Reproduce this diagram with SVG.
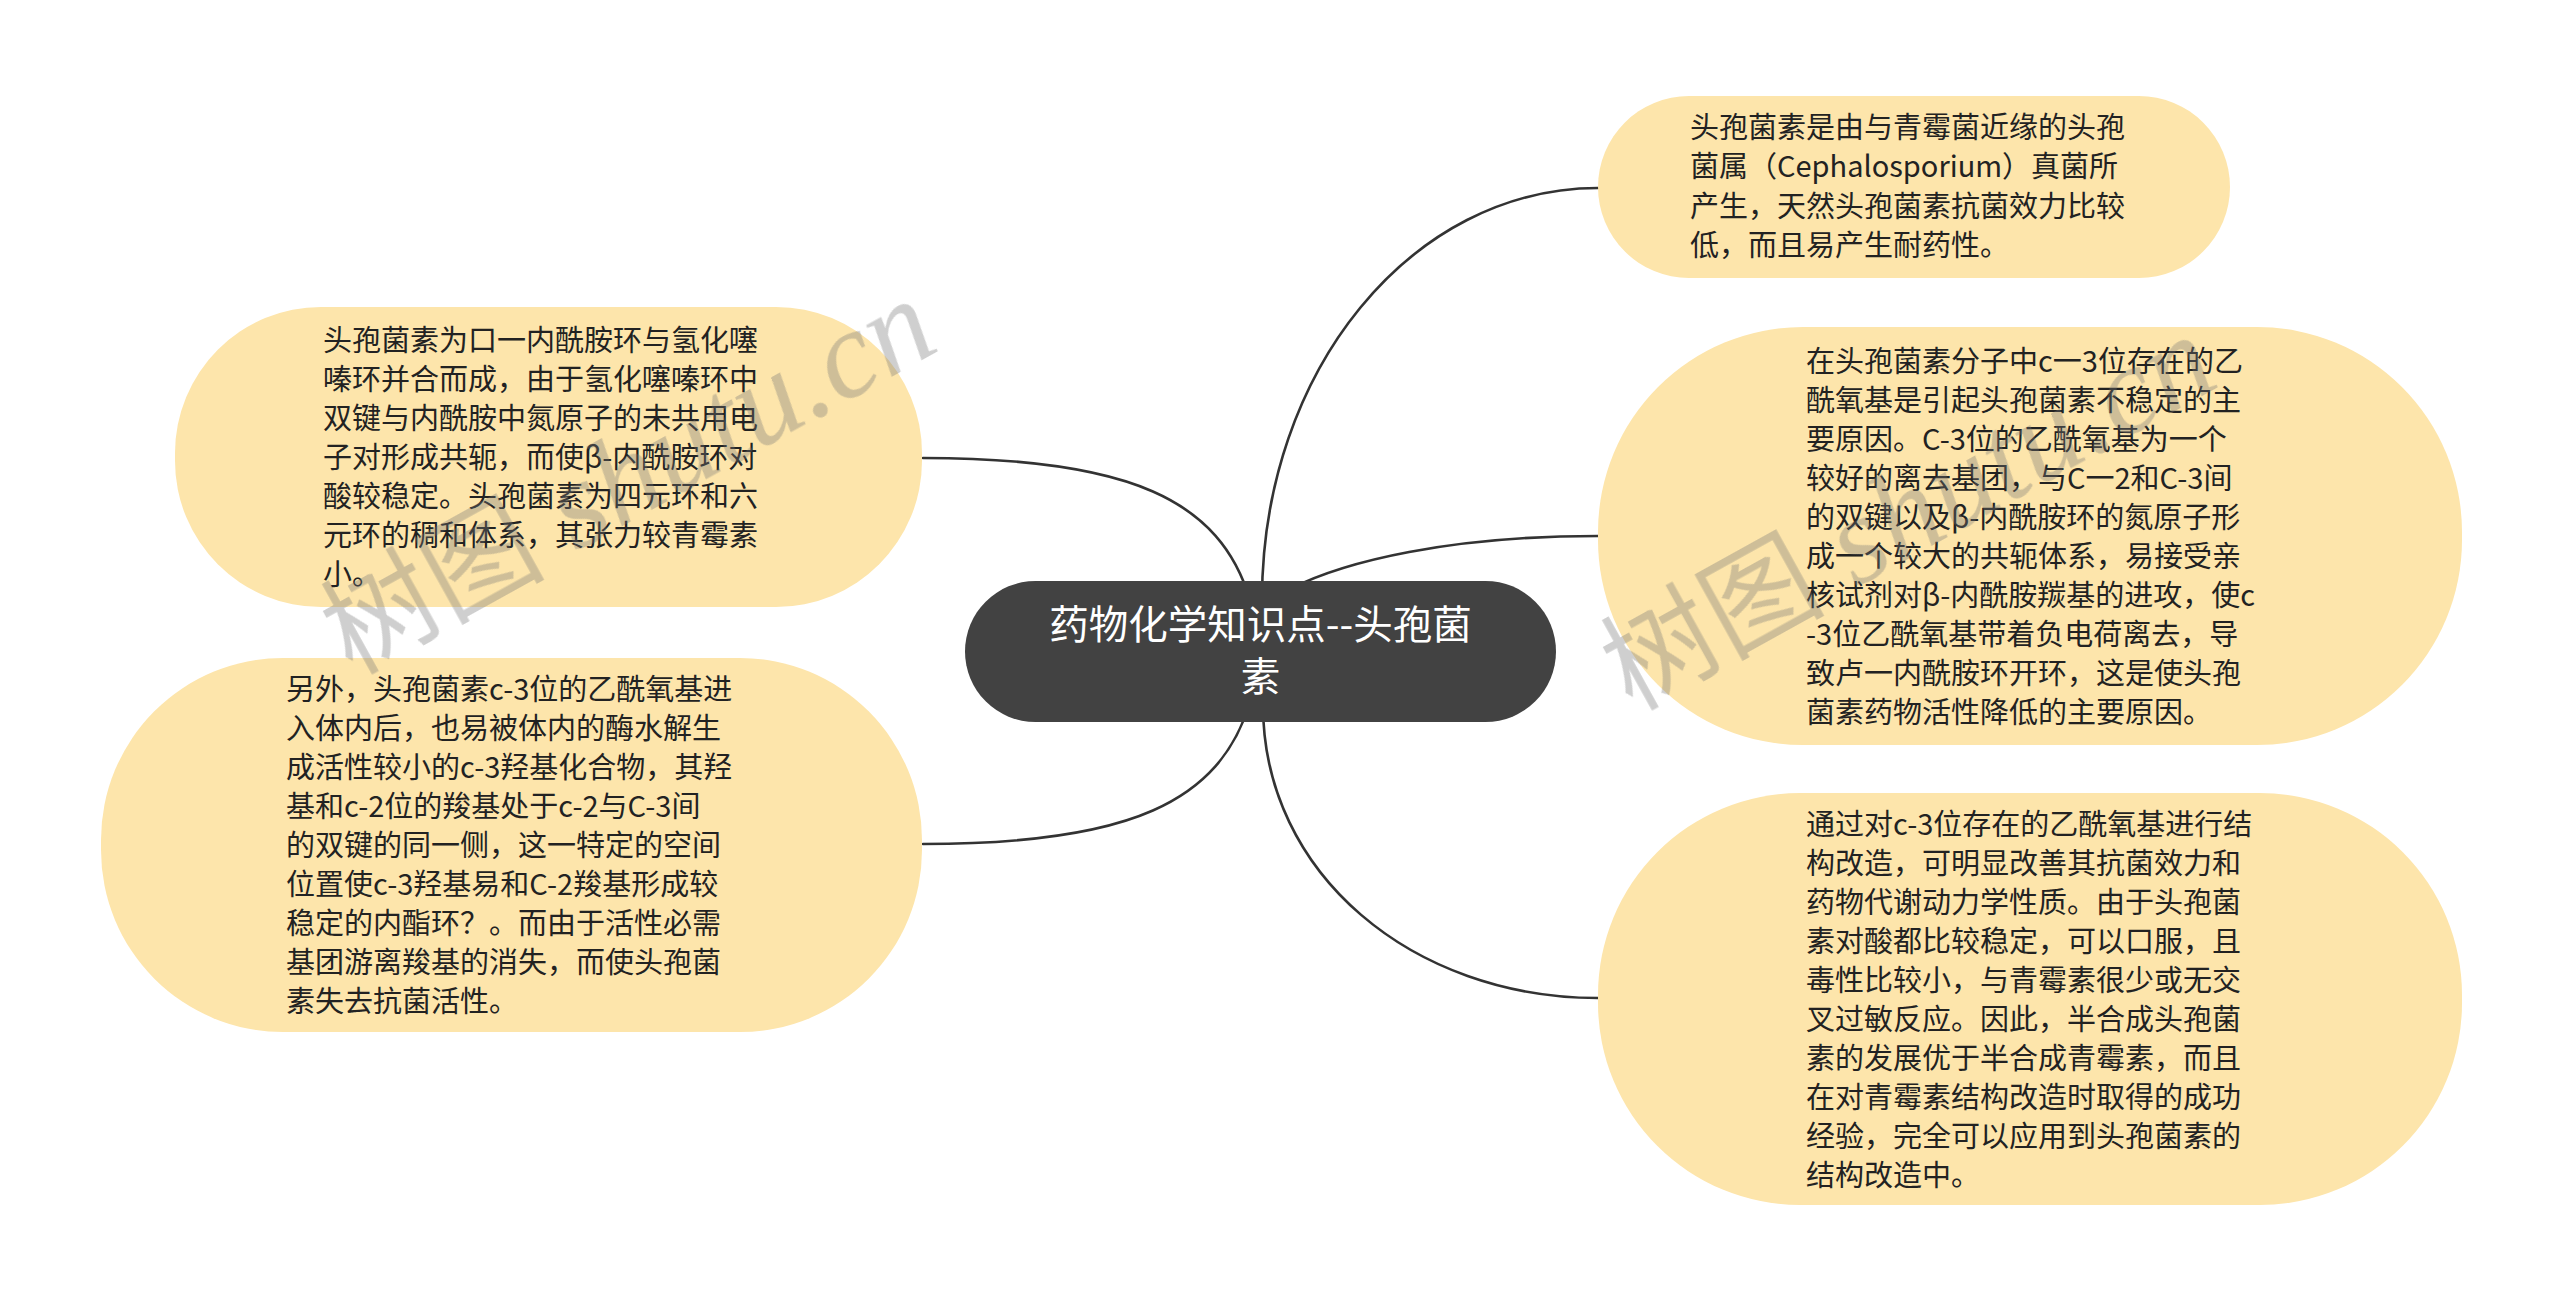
<svg xmlns="http://www.w3.org/2000/svg" width="2560" height="1303" viewBox="0 0 2560 1303">
<style>
.bg{fill:#ffffff}
.conn{fill:none;stroke:#333333;stroke-width:2.6;stroke-linecap:round}
.leaf{fill:#fde5ab}
.root{fill:#424242}
.lt{font-family:"Noto Sans CJK SC","Liberation Sans",sans-serif;font-size:29px;fill:#222222}
.rt{font-family:"Noto Sans CJK SC","Liberation Sans",sans-serif;font-size:39.5px;fill:#ffffff;text-anchor:middle}
.wm{fill:#777777;opacity:0.35}
.wmc{font-family:"Noto Sans CJK SC",sans-serif;font-size:112px}
.wml{font-family:"Liberation Serif","Noto Sans CJK SC",serif;font-style:italic;font-size:125px}
</style>
<rect class="bg" x="0" y="0" width="2560" height="1303"/>
<g id="connectors">
<path class="conn" d="M1262,600 C1262,370 1412,188 1598,188"/>
<path class="conn" d="M1290,589 C1345,561 1450,536 1598,536"/>
<path class="conn" d="M1263,705 C1263,874 1413,998 1598,998"/>
<path class="conn" d="M923,458 C1130,458 1220,500 1250,600"/>
<path class="conn" d="M923,844 C1130,844 1220,802 1250,702"/>
</g>
<g id="root">
<rect class="root" x="965" y="581" width="591" height="141" rx="70.5" ry="70.5"/>
<text class="rt" x="1260.5" y="639">药物化学知识点--头孢菌<tspan x="1260.5" y="691">素</tspan></text>
</g>
<g id="node-right-top">
<rect class="leaf" x="1598" y="96" width="632" height="182" rx="91" ry="91"/>
<text class="lt"><tspan x="1690" y="138">头孢菌素是由与青霉菌近缘的头孢</tspan><tspan x="1690" y="177.3">菌属（Cephalosporium）真菌所</tspan><tspan x="1690" y="216.6">产生，天然头孢菌素抗菌效力比较</tspan><tspan x="1690" y="256">低，而且易产生耐药性。</tspan></text>
</g>
<g id="node-right-mid">
<rect class="leaf" x="1598" y="327" width="864" height="418" rx="205" ry="205"/>
<text class="lt"><tspan x="1806" y="371.5">在头孢菌素分子中c一3位存在的乙</tspan><tspan x="1806" y="410.5">酰氧基是引起头孢菌素不稳定的主</tspan><tspan x="1806" y="449.5">要原因。C-3位的乙酰氧基为一个</tspan><tspan x="1806" y="488.5">较好的离去基团，与C一2和C-3间</tspan><tspan x="1806" y="527.5">的双键以及β-内酰胺环的氮原子形</tspan><tspan x="1806" y="566.5">成一个较大的共轭体系，易接受亲</tspan><tspan x="1806" y="605.5">核试剂对β-内酰胺羰基的进攻，使c</tspan><tspan x="1806" y="644.5">-3位乙酰氧基带着负电荷离去，导</tspan><tspan x="1806" y="683.5">致卢一内酰胺环开环，这是使头孢</tspan><tspan x="1806" y="722.5">菌素药物活性降低的主要原因。</tspan></text>
</g>
<g id="node-right-bottom">
<rect class="leaf" x="1598" y="793" width="864" height="412" rx="202" ry="202"/>
<text class="lt"><tspan x="1806" y="834.5">通过对c-3位存在的乙酰氧基进行结</tspan><tspan x="1806" y="873.5">构改造，可明显改善其抗菌效力和</tspan><tspan x="1806" y="912.5">药物代谢动力学性质。由于头孢菌</tspan><tspan x="1806" y="951.5">素对酸都比较稳定，可以口服，且</tspan><tspan x="1806" y="990.5">毒性比较小，与青霉素很少或无交</tspan><tspan x="1806" y="1029.5">叉过敏反应。因此，半合成头孢菌</tspan><tspan x="1806" y="1068.5">素的发展优于半合成青霉素，而且</tspan><tspan x="1806" y="1107.5">在对青霉素结构改造时取得的成功</tspan><tspan x="1806" y="1146.5">经验，完全可以应用到头孢菌素的</tspan><tspan x="1806" y="1185.5">结构改造中。</tspan></text>
</g>
<g id="node-left-top">
<rect class="leaf" x="175" y="307" width="747" height="300" rx="146" ry="146"/>
<text class="lt"><tspan x="323" y="351">头孢菌素为口一内酰胺环与氢化噻</tspan><tspan x="323" y="390">嗪环并合而成，由于氢化噻嗪环中</tspan><tspan x="323" y="429">双键与内酰胺中氮原子的未共用电</tspan><tspan x="323" y="468">子对形成共轭，而使β-内酰胺环对</tspan><tspan x="323" y="507">酸较稳定。头孢菌素为四元环和六</tspan><tspan x="323" y="546">元环的稠和体系，其张力较青霉素</tspan><tspan x="323" y="585">小。</tspan></text>
</g>
<g id="node-left-bottom">
<rect class="leaf" x="101" y="658" width="821" height="374" rx="182" ry="182"/>
<text class="lt"><tspan x="286" y="700">另外，头孢菌素c-3位的乙酰氧基进</tspan><tspan x="286" y="739">入体内后，也易被体内的酶水解生</tspan><tspan x="286" y="778">成活性较小的c-3羟基化合物，其羟</tspan><tspan x="286" y="817">基和c-2位的羧基处于c-2与C-3间</tspan><tspan x="286" y="856">的双键的同一侧，这一特定的空间</tspan><tspan x="286" y="895">位置使c-3羟基易和C-2羧基形成较</tspan><tspan x="286" y="934">稳定的内酯环？。而由于活性必需</tspan><tspan x="286" y="973">基团游离羧基的消失，而使头孢菌</tspan><tspan x="286" y="1012">素失去抗菌活性。</tspan></text>
</g>
<g id="watermarks" class="wm">
<text transform="translate(352,676) rotate(-29)"><tspan class="wmc">树图</tspan><tspan class="wml"> shutu.cn</tspan></text>
<text transform="translate(1632,712) rotate(-29)"><tspan class="wmc">树图</tspan><tspan class="wml"> shutu.cn</tspan></text>
</g>
</svg>
